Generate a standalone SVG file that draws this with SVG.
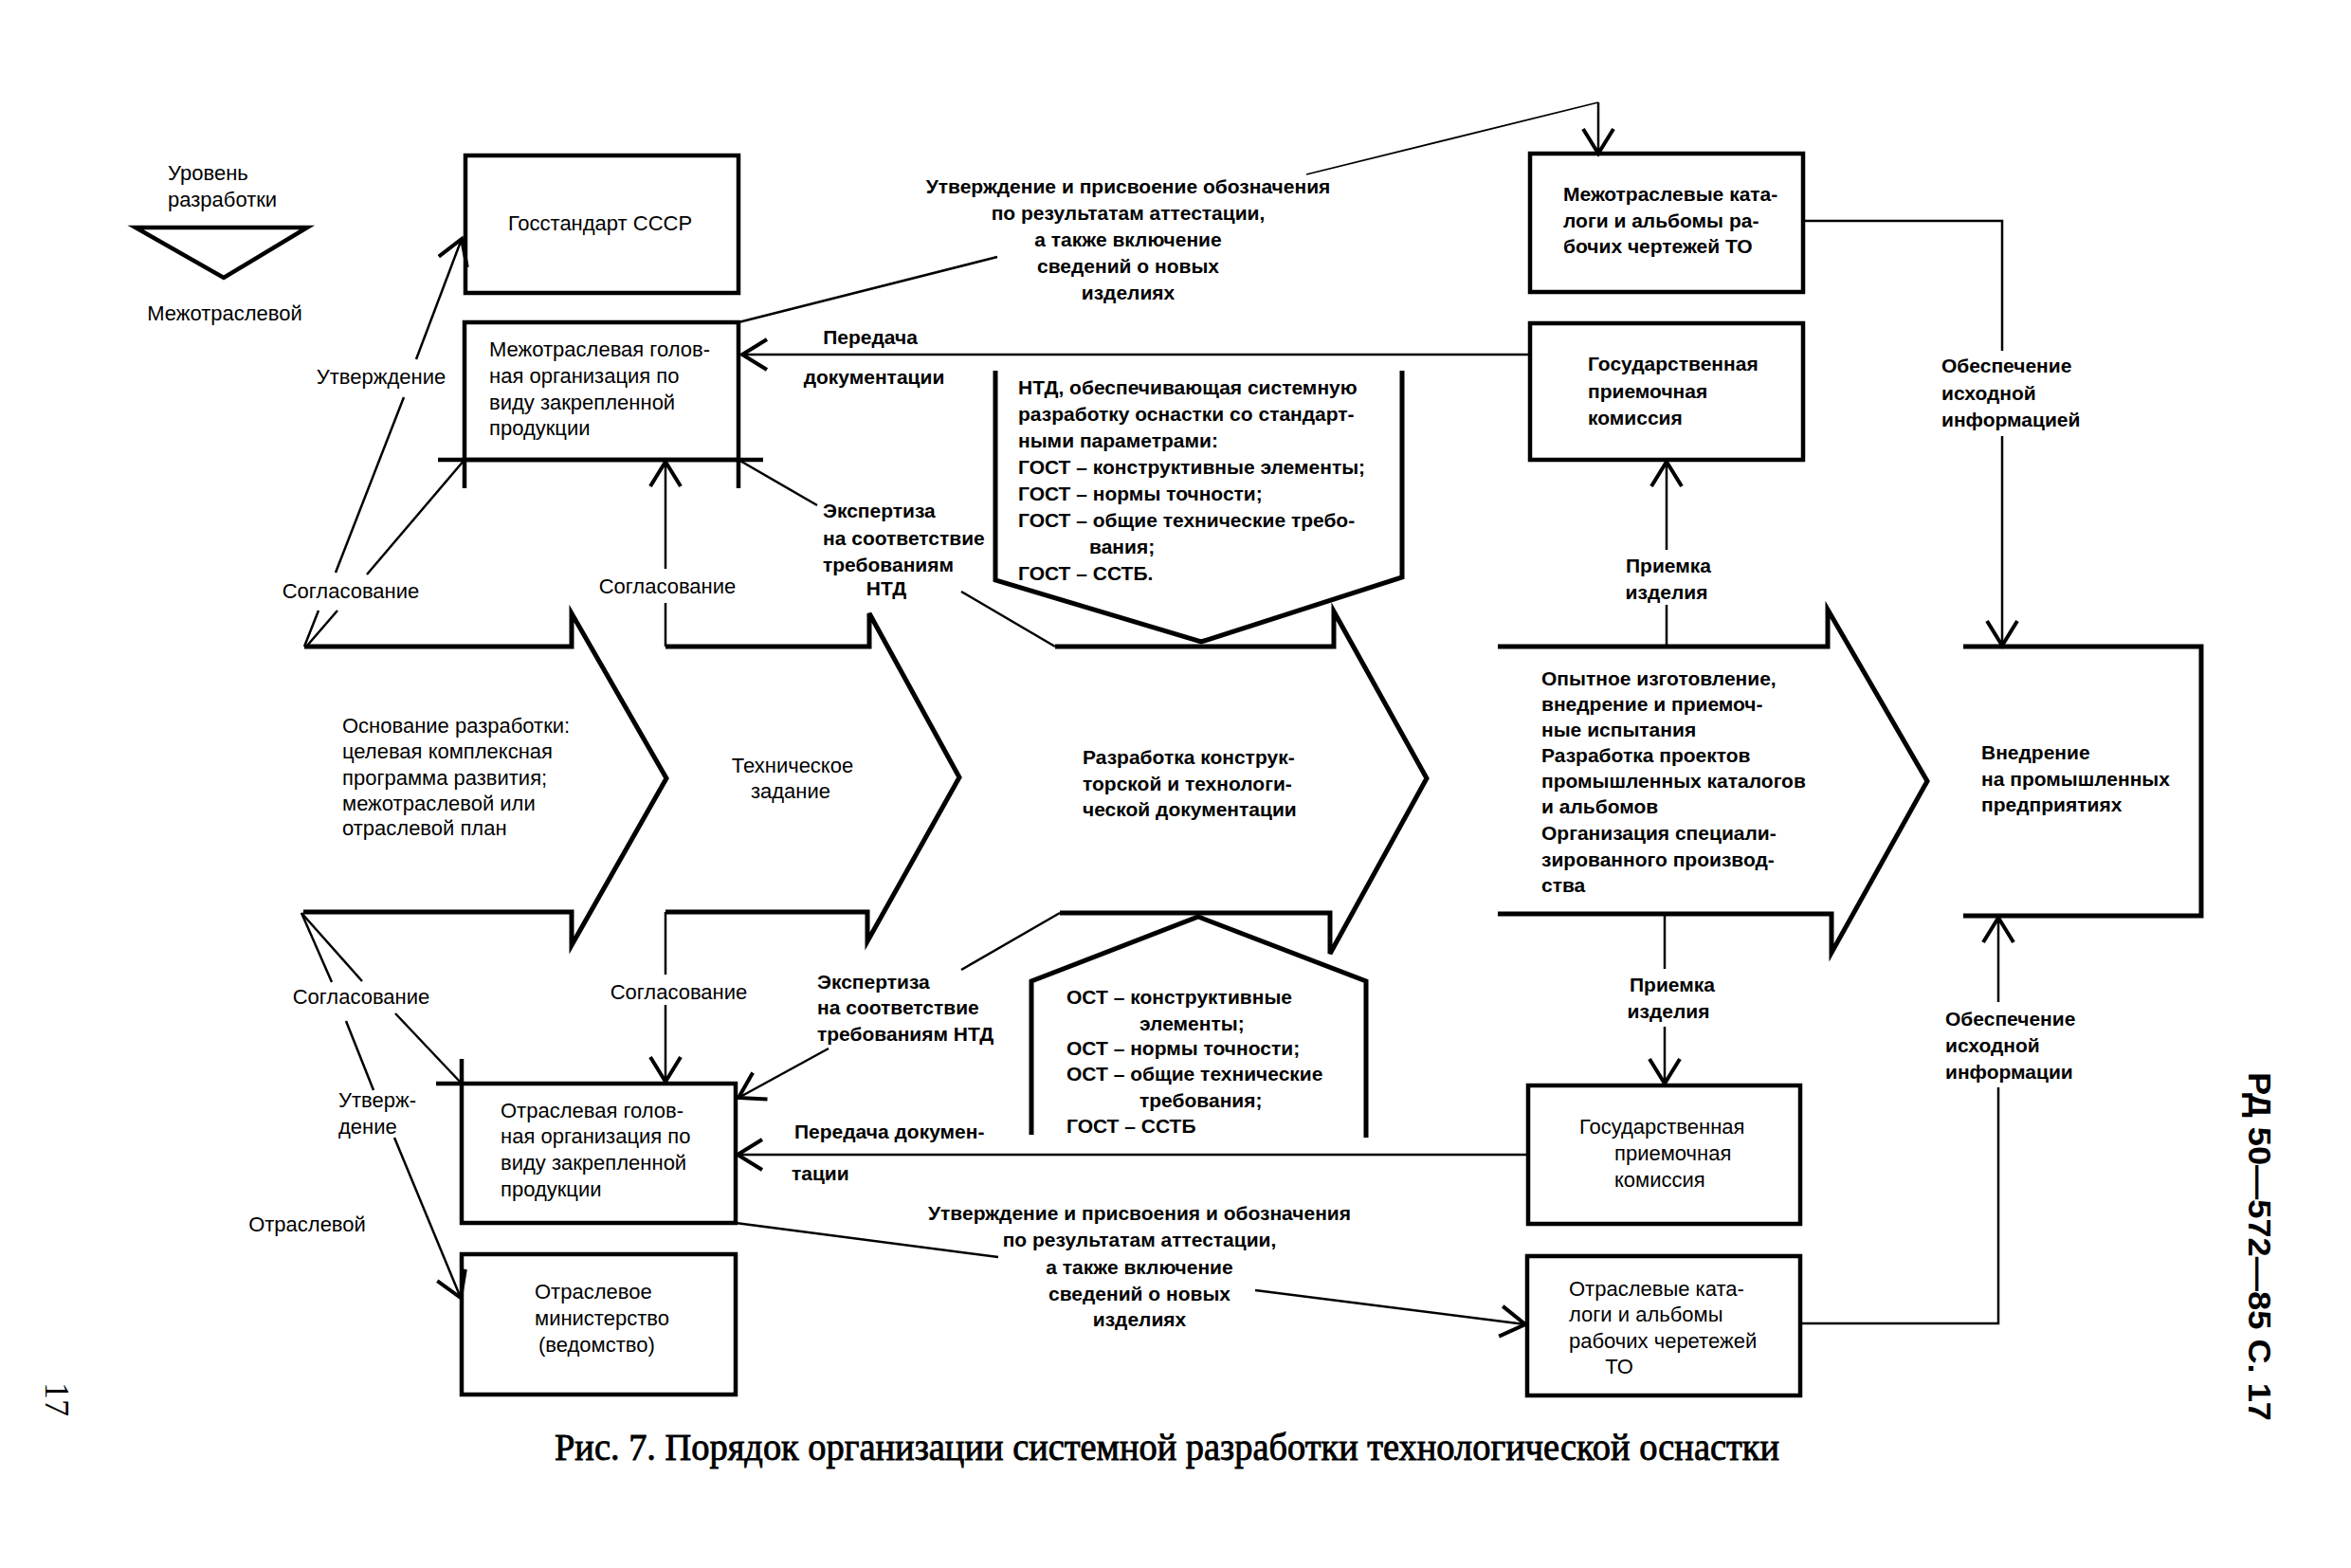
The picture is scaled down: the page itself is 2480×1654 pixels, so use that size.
<svg xmlns="http://www.w3.org/2000/svg" width="2480" height="1654" viewBox="0 0 2480 1654">
<defs>
<style>
.box{fill:none;stroke:#000;stroke-width:4.5}
.chev{fill:none;stroke:#000;stroke-width:5;stroke-linejoin:miter}
.ln{fill:none;stroke:#000;stroke-width:2.5}
.thin{fill:none;stroke:#000;stroke-width:1.8}
.t{font-family:"Liberation Sans",Arial,sans-serif;font-size:22px;fill:#000}
.b{font-weight:bold;font-size:21px}
.m{text-anchor:middle}
</style>
<marker id="a" markerUnits="userSpaceOnUse" markerWidth="40" markerHeight="40" viewBox="-32 -20 36 40" refX="0" refY="0" orient="auto" overflow="visible">
<path d="M-26,-16 L0,0 L-26,16" fill="none" stroke="#000" stroke-width="4"/>
</marker>
</defs>
<rect x="0" y="0" width="2480" height="1654" fill="#fff"/>

<g id="legend">
<text class="t" x="177" y="190">Уровень</text>
<text class="t" x="177" y="218">разработки</text>
<polygon points="143,240 324,240 236,293" fill="none" stroke="#000" stroke-width="4.5"/>
<text class="t m" x="237" y="338">Межотраслевой</text>
<text class="t m" x="324" y="1299">Отраслевой</text>
</g>

<g id="gosstandart">
<rect class="box" x="491" y="164" width="288" height="145"/>
<text class="t m" x="633" y="243">Госстандарт СССР</text>
</g>

<g id="mezh-golov">
<rect class="box" x="490" y="340" width="289" height="145"/>
<path class="box" d="M462,485 L805,485 M490,485 L490,515 M779,485 L779,515"/>
<text class="t" x="516" y="376">Межотраслевая голов-</text>
<text class="t" x="516" y="404">ная организация по</text>
<text class="t" x="516" y="432">виду закрепленной</text>
<text class="t" x="516" y="459">продукции</text>
</g>

<g id="mezh-katalogi">
<rect class="box" x="1614" y="162" width="288" height="146"/>
<text class="t b" x="1649" y="212">Межотраслевые ката-</text>
<text class="t b" x="1649" y="240">логи и альбомы ра-</text>
<text class="t b" x="1649" y="267">бочих чертежей ТО</text>
</g>

<g id="gpk-top">
<rect class="box" x="1614" y="341" width="288" height="144"/>
<text class="t b" x="1675" y="391">Государственная</text>
<text class="t b" x="1675" y="420">приемочная</text>
<text class="t b" x="1675" y="448">комиссия</text>
</g>

<g id="ntd-top">
<path class="chev" d="M1050,391 L1050,612 L1267,677 L1479,609 L1479,391"/>
<text class="t b" x="1074" y="416">НТД, обеспечивающая системную</text>
<text class="t b" x="1074" y="444">разработку оснастки со стандарт-</text>
<text class="t b" x="1074" y="472">ными параметрами:</text>
<text class="t b" x="1074" y="500">ГОСТ – конструктивные элементы;</text>
<text class="t b" x="1074" y="528">ГОСТ – нормы точности;</text>
<text class="t b" x="1074" y="556">ГОСТ – общие технические требо-</text>
<text class="t b" x="1149" y="584">вания;</text>
<text class="t b" x="1074" y="612">ГОСТ – ССТБ.</text>
</g>

<g id="osnovanie">
<path class="chev" d="M321,682 L603,682 L603,647 L703,821 L603,997 L603,962 L320,962"/>
<text class="t" x="361" y="773">Основание разработки:</text>
<text class="t" x="361" y="800">целевая комплексная</text>
<text class="t" x="361" y="828">программа развития;</text>
<text class="t" x="361" y="855">межотраслевой или</text>
<text class="t" x="361" y="881">отраслевой план</text>
</g>

<g id="tz">
<path class="chev" d="M702,682 L917,682 L917,647 L1012,820 L915,993 L915,962 L702,962"/>
<text class="t m" x="836" y="815">Техническое</text>
<text class="t m" x="834" y="842">задание</text>
</g>

<g id="razrabotka">
<path class="chev" d="M1113,682 L1407,682 L1407,645 L1505,821 L1403,1006 L1403,963 L1118,963"/>
<text class="t b" x="1142" y="806">Разработка конструк-</text>
<text class="t b" x="1142" y="834">торской и технологи-</text>
<text class="t b" x="1142" y="861">ческой документации</text>
</g>

<g id="opytnoe">
<path class="chev" d="M1580,682 L1928,682 L1928,643 L2033,824 L1932,1005 L1932,964 L1580,964"/>
<text class="t b" x="1626" y="723">Опытное изготовление,</text>
<text class="t b" x="1626" y="750">внедрение и приемоч-</text>
<text class="t b" x="1626" y="777">ные испытания</text>
<text class="t b" x="1626" y="804">Разработка проектов</text>
<text class="t b" x="1626" y="831">промышленных каталогов</text>
<text class="t b" x="1626" y="858">и альбомов</text>
<text class="t b" x="1626" y="886">Организация специали-</text>
<text class="t b" x="1626" y="914">зированного производ-</text>
<text class="t b" x="1626" y="941">ства</text>
</g>

<g id="vnedrenie">
<path class="chev" d="M2071,682 L2322,682 L2322,966 L2071,966"/>
<text class="t b" x="2090" y="801">Внедрение</text>
<text class="t b" x="2090" y="829">на промышленных</text>
<text class="t b" x="2090" y="856">предприятиях</text>
</g>

<g id="ost-bottom">
<path class="chev" d="M1088,1197 L1088,1035 L1264,967 L1441,1035 L1441,1200"/>
<text class="t b" x="1125" y="1059">ОСТ – конструктивные</text>
<text class="t b" x="1202" y="1087">элементы;</text>
<text class="t b" x="1125" y="1113">ОСТ – нормы точности;</text>
<text class="t b" x="1125" y="1140">ОСТ – общие технические</text>
<text class="t b" x="1202" y="1168">требования;</text>
<text class="t b" x="1125" y="1195">ГОСТ – ССТБ</text>
</g>

<g id="otr-golov">
<rect class="box" x="487" y="1143" width="289" height="147"/>
<path class="box" d="M460,1143 L487,1143 M487,1117 L487,1143"/>
<text class="t" x="528" y="1179">Отраслевая голов-</text>
<text class="t" x="528" y="1206">ная организация по</text>
<text class="t" x="528" y="1234">виду закрепленной</text>
<text class="t" x="528" y="1262">продукции</text>
</g>

<g id="otr-ministerstvo">
<rect class="box" x="487" y="1323" width="289" height="148"/>
<text class="t" x="564" y="1370">Отраслевое</text>
<text class="t" x="564" y="1398">министерство</text>
<text class="t" x="568" y="1426">(ведомство)</text>
</g>

<g id="gpk-bottom">
<rect class="box" x="1612" y="1145" width="287" height="146"/>
<text class="t" x="1666" y="1196">Государственная</text>
<text class="t" x="1703" y="1224">приемочная</text>
<text class="t" x="1703" y="1252">комиссия</text>
</g>

<g id="otr-katalogi">
<rect class="box" x="1611" y="1325" width="288" height="147"/>
<text class="t" x="1655" y="1367">Отраслевые ката-</text>
<text class="t" x="1655" y="1394">логи и альбомы</text>
<text class="t" x="1655" y="1422">рабочих черетежей</text>
<text class="t m" x="1708" y="1449">ТО</text>
</g>

<g id="connectors">
<path class="ln" d="M321,682 L336,644 M354,604 L426,419"/>
<path class="ln" d="M439,379 L487,252" marker-end="url(#a)"/>
<path class="ln" d="M324,681 L356,644 M387,606 L490,485"/>
<path class="ln" d="M702,682 L702,636"/>
<path class="ln" d="M702,600 L702,487" marker-end="url(#a)"/>
<path class="ln" d="M779,485 L862,533 M1014,624 L1113,682"/>
<path class="ln" d="M1614,374 L783,374" marker-end="url(#a)"/>
<path class="ln" d="M779,340 L1052,271"/>
<path class="thin" d="M1378,184 L1686,108"/>
<path class="ln" d="M1686,108 L1686,162" marker-end="url(#a)"/>
<path class="ln" d="M1902,233 L2112,233 L2112,370"/>
<path class="ln" d="M2112,460 L2112,681" marker-end="url(#a)"/>
<path class="ln" d="M1758,682 L1758,638"/>
<path class="ln" d="M1758,580 L1758,487" marker-end="url(#a)"/>
<path class="ln" d="M318,963 L350,1036 M365,1077 L394,1150"/>
<path class="ln" d="M416,1200 L486,1369" marker-end="url(#a)"/>
<path class="ln" d="M318,963 L382,1035 M417,1069 L487,1143"/>
<path class="ln" d="M702,962 L702,1028"/>
<path class="ln" d="M702,1060 L702,1141" marker-end="url(#a)"/>
<path class="ln" d="M1118,963 L1014,1023"/>
<path class="ln" d="M874,1106 L779,1158" marker-end="url(#a)"/>
<path class="ln" d="M1612,1218 L778,1218" marker-end="url(#a)"/>
<path class="ln" d="M776,1290 L1053,1326"/>
<path class="ln" d="M1324,1361 L1609,1397" marker-end="url(#a)"/>
<path class="ln" d="M1756,964 L1756,1022"/>
<path class="ln" d="M1756,1083 L1756,1143" marker-end="url(#a)"/>
<path class="ln" d="M1899,1396 L2108,1396 L2108,1147"/>
<path class="ln" d="M2108,1057 L2108,968" marker-end="url(#a)"/>
</g>

<g id="connector-labels">
<text class="t m" x="402" y="405">Утверждение</text>
<text class="t m" x="370" y="631">Согласование</text>
<text class="t m" x="704" y="626">Согласование</text>
<text class="t b" x="868" y="546">Экспертиза</text>
<text class="t b" x="868" y="575">на соответствие</text>
<text class="t b" x="868" y="603">требованиям</text>
<text class="t b m" x="935" y="628">НТД</text>
<text class="t b m" x="918" y="363">Передача</text>
<text class="t b m" x="922" y="405">документации</text>
<text class="t b m" x="1190" y="204">Утверждение и присвоение обозначения</text>
<text class="t b m" x="1190" y="232">по результатам аттестации,</text>
<text class="t b m" x="1190" y="260">а также включение</text>
<text class="t b m" x="1190" y="288">сведений о новых</text>
<text class="t b m" x="1190" y="316">изделиях</text>
<text class="t b" x="2048" y="393">Обеспечение</text>
<text class="t b" x="2048" y="422">исходной</text>
<text class="t b" x="2048" y="450">информацией</text>
<text class="t b m" x="1760" y="604">Приемка</text>
<text class="t b m" x="1758" y="632">изделия</text>
<text class="t m" x="381" y="1059">Согласование</text>
<text class="t m" x="716" y="1054">Согласование</text>
<text class="t" x="357" y="1168">Утверж-</text>
<text class="t" x="357" y="1196">дение</text>
<text class="t b" x="862" y="1043">Экспертиза</text>
<text class="t b" x="862" y="1070">на соответствие</text>
<text class="t b" x="862" y="1098">требованиям  НТД</text>
<text class="t b m" x="1764" y="1046">Приемка</text>
<text class="t b m" x="1760" y="1074">изделия</text>
<text class="t b" x="2052" y="1082">Обеспечение</text>
<text class="t b" x="2052" y="1110">исходной</text>
<text class="t b" x="2052" y="1138">информации</text>
<text class="t b" x="838" y="1201">Передача докумен-</text>
<text class="t b" x="835" y="1245">тации</text>
<text class="t b m" x="1202" y="1287">Утверждение и присвоения и обозначения</text>
<text class="t b m" x="1202" y="1315">по результатам аттестации,</text>
<text class="t b m" x="1202" y="1344">а также включение</text>
<text class="t b m" x="1202" y="1372">сведений о новых</text>
<text class="t b m" x="1202" y="1399">изделиях</text>
</g>

<g id="page-marks">
<text x="1231" y="1540" text-anchor="middle" textLength="1292" lengthAdjust="spacingAndGlyphs" style="font-family:'Liberation Serif','Times New Roman',serif;font-size:40px;stroke:#000;stroke-width:0.9">Рис. 7. Порядок организации системной разработки технологической оснастки</text>
<text transform="translate(48,1476) rotate(90)" text-anchor="middle" style="font-family:'Liberation Serif','Times New Roman',serif;font-size:36px">17</text>
<text transform="translate(2372,1315) rotate(90)" text-anchor="middle" textLength="368" lengthAdjust="spacingAndGlyphs" style="font-family:'Liberation Sans',Arial,sans-serif;font-size:34px;font-weight:bold">РД 50—572—85 С. 17</text>
</g>
</svg>
